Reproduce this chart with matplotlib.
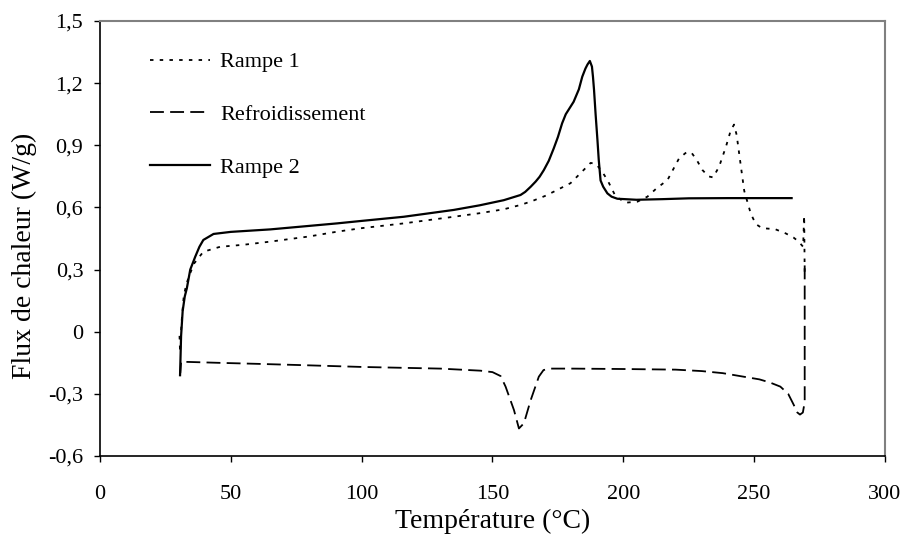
import matplotlib
matplotlib.use('Agg')
import matplotlib.pyplot as plt

# Rampe 1 (pointillés)
t_rampe1 = [30.4, 30.6, 31.2, 32.0, 33.0, 34.4, 36.0, 39.5, 45.9, 55.0, 65.1, 80.0, 90.6,
            100.0, 116.1, 125.0, 135.2, 145.0, 154.3, 160.7, 165.0, 170.0, 173.4, 179.8,
            184.0, 187.5, 189.5, 191.5, 193.9, 197.1, 201.0, 205.4, 209.2, 212.5, 216.9,
            221.3, 224.0, 226.0, 228.0, 230.2, 232.5, 234.3, 236.6, 239.2, 241.0, 242.3,
            243.3, 244.9, 246.2, 248.7, 250.6, 253.0, 258.0, 262.0, 265.0, 267.0, 268.7,
            269.1, 269.2, 269.3]
y_rampe1 = [-0.02, -0.10, 0.05, 0.17, 0.23, 0.28, 0.33, 0.386, 0.41, 0.42, 0.435, 0.46, 0.483,
            0.50, 0.523, 0.538, 0.555, 0.572, 0.591, 0.612, 0.63, 0.655, 0.676, 0.717,
            0.77, 0.815, 0.81, 0.78, 0.733, 0.652, 0.623, 0.628, 0.652, 0.69, 0.733,
            0.837, 0.865, 0.865, 0.83, 0.781, 0.75, 0.745, 0.797, 0.893, 0.97, 1.0,
            0.95, 0.80, 0.68, 0.57, 0.52, 0.50, 0.495, 0.475, 0.455, 0.435, 0.41,
            0.56, 0.42, 0.28]

# Refroidissement (tirets)
t_refroid = [269.3, 269.3, 268.6, 267.5, 266.5, 265.0, 263.0, 260.0, 256.0, 252.0, 245.0,
             238.0, 230.0, 220.0, 200.0, 180.0, 172.0, 169.5, 167.7, 164.6, 162.0, 160.1,
             158.2, 155.0, 153.1, 150.0, 145.4, 130.0, 100.0, 76.5, 60.0, 45.0, 34.4,
             31.0, 30.7]
y_refroid = [0.32, -0.34, -0.39, -0.40, -0.39, -0.35, -0.30, -0.265, -0.245, -0.23, -0.215,
             -0.20, -0.19, -0.183, -0.18, -0.178, -0.178, -0.185, -0.217, -0.33, -0.442, -0.467,
             -0.378, -0.265, -0.214, -0.195, -0.188, -0.178, -0.17, -0.161, -0.155, -0.15, -0.146,
             -0.145, -0.20]

# Rampe 2 (trait plein)
t_rampe2 = [30.6, 31.0, 31.6, 32.4, 33.2, 34.5, 36.4, 38.0, 39.5, 43.4, 50.0, 65.1, 90.6,
            100.0, 116.1, 135.2, 145.0, 154.3, 160.7, 162.5, 164.6, 166.5, 168.0, 169.6,
            171.5, 173.4, 175.0, 176.6, 178.0, 179.8, 181.0, 183.0, 184.3, 185.5, 186.3,
            187.2, 188.0, 188.4, 188.8, 189.4, 190.1, 190.6, 191.3, 192.3, 193.9, 195.5,
            197.7, 205.0, 215.0, 225.0, 240.0, 255.0, 264.3]
y_rampe2 = [-0.21, -0.02, 0.10, 0.17, 0.21, 0.30, 0.362, 0.41, 0.443, 0.472, 0.482, 0.494, 0.523,
            0.535, 0.555, 0.588, 0.61, 0.635, 0.66, 0.675, 0.70, 0.725, 0.748, 0.78,
            0.825, 0.885, 0.94, 1.006, 1.05, 1.086, 1.11, 1.17, 1.231, 1.27, 1.29,
            1.307, 1.28, 1.23, 1.167, 1.05, 0.926, 0.83, 0.73, 0.70, 0.668, 0.652,
            0.642, 0.637, 0.64, 0.644, 0.645, 0.645, 0.645]

y_ticks = [-0.6, -0.3, 0, 0.3, 0.6, 0.9, 1.2, 1.5]
y_tick_labels = ['-0,6', '-0,3', '0', '0,3', '0,6', '0,9', '1,2', '1,5']
x_ticks = [0, 50, 100, 150, 200, 250, 300]

plt.rcParams['font.family'] = ['Liberation Serif', 'DejaVu Serif']
plt.rcParams['lines.scale_dashes'] = False

fig = plt.figure(figsize=(9.08, 5.37), dpi=100)
ax = fig.add_axes([0.1101, 0.1508, 0.8646, 0.8101])

ax.plot(t_rampe1, y_rampe1, color='black', lw=1.3, linestyle=(0, (2.5, 4.5)), label='Rampe 1')
ax.plot(t_refroid, y_refroid, color='black', lw=1.3, linestyle=(0, (10, 4.5)), label='Refroidissement')
ax.plot(t_rampe2, y_rampe2, color='black', lw=1.6, linestyle='-', label='Rampe 2')

ax.set_xlim(0, 300)
ax.set_ylim(-0.6, 1.5)
ax.set_xticks(x_ticks)
ax.set_yticks(y_ticks)
ax.set_yticklabels(y_tick_labels)

ax.tick_params(axis='both', direction='out', length=4, width=1, labelsize=16, colors='black')
ax.tick_params(axis='y', pad=8)
ax.tick_params(axis='x', pad=17)

ax.spines['left'].set_linewidth(1.2)
ax.spines['bottom'].set_linewidth(1.2)
ax.spines['top'].set_color('#808080')
ax.spines['right'].set_color('#808080')
ax.spines['top'].set_linewidth(1.5)
ax.spines['right'].set_linewidth(1.5)

ax.set_xlabel('Température (°C)', fontsize=20)
ax.set_ylabel('Flux de chaleur (W/g)', fontsize=20)
ax.xaxis.set_label_coords(0.5, -0.121)
ax.yaxis.set_label_coords(-0.08, 0.46)

ax.legend(loc='upper left', bbox_to_anchor=(0.064, 0.929), frameon=False, fontsize=16,
          handlelength=2.7, handletextpad=0.45, labelspacing=1.45, borderpad=0, borderaxespad=0)

fig.savefig('out.png', dpi=100)
